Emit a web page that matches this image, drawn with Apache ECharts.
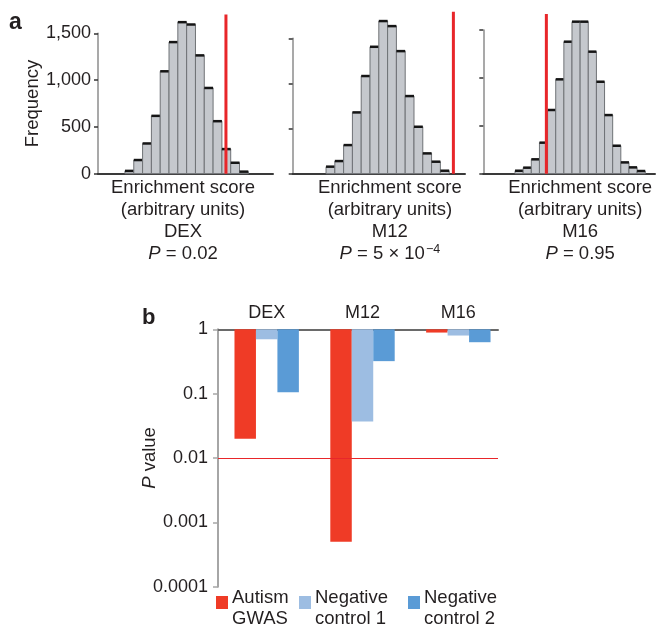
<!DOCTYPE html>
<html>
<head>
<meta charset="utf-8">
<script src="https://cdn.jsdelivr.net/npm/echarts@6/dist/echarts.min.js"></script>
<style>html,body{margin:0;padding:0;background:#fff;}#c{width:657px;height:633px;}</style>
</head>
<body>
<div id="c"></div>
<script>
// ---- Panel a: histogram counts per bin (bin index = enrichment score, arbitrary units)
const dexCounts = [30, 146, 323, 618, 1094, 1406, 1619, 1594, 1264, 916, 561, 263, 117, 22];
const m12Counts = [78, 140, 317, 679, 1082, 1406, 1691, 1635, 1358, 860, 520, 225, 133, 33];
const m16Counts = [31, 63, 150, 324, 665, 985, 1378, 1587, 1587, 1274, 960, 612, 292, 118, 66, 28];
// observed enrichment (red line) position in bin units, and its drawn height
const observedPos = [11.46, 14.48, 3.85];
const observedTop = [1700, 1795, 1667];
const histNames = ['DEX', 'M12', 'M16'];
const freqTicks = [0, 500, 1000, 1500];

// ---- Panel b: P values
const pCategories = ['DEX', 'M12', 'M16'];
const autismGWAS = [0.02, 0.0005, 0.89];
const negControl1 = [0.7, 0.037, 0.8];
const negControl2 = [0.105, 0.32, 0.63];
const pTickLabels = ['0.0001', '0.001', '0.01', '0.1', '1'];
const pThreshold = 0.01;

const FONT = "'Liberation Sans', Arial, Helvetica, sans-serif";
const TXT = '#231f20';

const chart = echarts.init(document.getElementById('c'));

const gridsA = [
  {left: 98, top: 33.3, width: 175, height: 140.4},
  {left: 292.7, top: 38.3, width: 172.3, height: 135.4},
  {left: 483.3, top: 30, width: 171.7, height: 143.7}
];
const xRanges = [[-3.06, 16.8], [-3.79, 15.8], [-3.9, 17.2]];
const namePads = [[0, 5, 0, 0], [0, 0, 0, 22], [0, 0, 0, 22]];
const pStrings = ['{i|P} = 0.02', '{i|P} = 5 × 10{sup|−4}', '{i|P} = 0.95'];

const richBase = {
  i: {fontStyle: 'italic', fontSize: 18.5, fontFamily: FONT, color: TXT, lineHeight: 22},
  sup: {fontSize: 12.5, fontFamily: FONT, color: TXT, verticalAlign: 'top', lineHeight: 22, padding: [0, 0, 6, 1]}
};

const xAxes = [], yAxes = [], series = [];
for (let k = 0; k < 3; k++) {
  xAxes.push({
    gridIndex: k, type: 'value', min: xRanges[k][0], max: xRanges[k][1],
    axisLine: {show: true, onZero: false, lineStyle: {color: '#3a3a3a', width: 2}},
    axisTick: {show: false}, axisLabel: {show: false}, splitLine: {show: false},
    name: 'Enrichment score\n(arbitrary units)\n' + histNames[k] + '\n' + pStrings[k],
    nameLocation: 'middle', nameGap: 3,
    nameTextStyle: {fontSize: 18.5, fontFamily: FONT, color: TXT, lineHeight: 22, padding: namePads[k], rich: richBase}
  });
  yAxes.push({
    gridIndex: k, type: 'value', min: 0, max: 1500, interval: 500,
    axisLine: {show: true, onZero: false, lineStyle: {color: '#8c8c8c', width: 1.5}},
    axisTick: {show: true, inside: false, length: 4, lineStyle: {color: '#333', width: 1.5}},
    axisLabel: {show: k === 0, fontSize: 18, fontFamily: FONT, color: TXT, margin: 7,
      formatter: v => freqTicks.includes(v) ? v.toLocaleString('en-US') : ''},
    splitLine: {show: false},
    name: k === 0 ? 'Frequency' : '', nameLocation: 'middle', nameGap: 56,
    nameTextStyle: {fontSize: 18.5, fontFamily: FONT, color: TXT}
  });
  const counts = [dexCounts, m12Counts, m16Counts][k];
  series.push({
    type: 'custom', xAxisIndex: k, yAxisIndex: k, clip: false, silent: true,
    data: counts.map((c, i) => [i, c]),
    renderItem: (params, api) => {
      const x0 = api.value(0), c = api.value(1);
      const a = api.coord([x0, 0]), b = api.coord([x0 + 1, c]);
      return {type: 'group', children: [
        {type: 'rect', shape: {x: a[0], y: b[1], width: b[0] - a[0], height: a[1] - b[1]},
          style: {fill: '#c5c8cd', stroke: '#6f7276', lineWidth: 1}},
        {type: 'line', shape: {x1: a[0], y1: b[1], x2: b[0], y2: b[1]},
          style: {stroke: '#151515', lineWidth: 2.5}}
      ]};
    }
  });
  series.push({
    type: 'line', xAxisIndex: k, yAxisIndex: k, symbol: 'none', silent: true, z: 5, clip: false,
    data: [[observedPos[k], 0], [observedPos[k], observedTop[k]]],
    lineStyle: {color: '#e8262a', width: 3}
  });
}

// Panel b axes
xAxes.push({
  gridIndex: 3, type: 'value', min: -0.508, max: 2.414, position: 'top',
  axisLine: {show: true, onZero: false, lineStyle: {color: '#6a6a6a', width: 2}},
  axisTick: {show: false}, splitLine: {show: false},
  axisLabel: {show: true, customValues: [0, 1, 2], formatter: v => pCategories[Math.round(v)] || '',
    fontSize: 18, fontFamily: FONT, color: TXT, margin: 7}
});
yAxes.push({
  gridIndex: 3, type: 'log', logBase: 10, min: 0.0001, max: 1,
  axisLine: {show: true, onZero: false, lineStyle: {color: '#a6a6a6', width: 2}},
  axisTick: {show: true, inside: false, length: 5, lineStyle: {color: '#a6a6a6', width: 1.5}},
  axisLabel: {fontSize: 18, fontFamily: FONT, color: TXT, margin: 10,
    formatter: v => { const e = Math.round(Math.log10(v)); return pTickLabels[e + 4]; }},
  splitLine: {show: false},
  name: '{i|P} value', nameLocation: 'middle', nameGap: 57, nameMoveOverlap: false,
  nameTextStyle: {fontSize: 18.5, fontFamily: FONT, color: TXT, rich: richBase}
});

const barW = 0.224;
const pSeries = [
  {name: 'Autism\nGWAS', data: autismGWAS, color: '#ef3b26', off: -1},
  {name: 'Negative\ncontrol 1', data: negControl1, color: '#9dbde2', off: 0},
  {name: 'Negative\ncontrol 2', data: negControl2, color: '#5a9bd6', off: 1}
];
pSeries.forEach((s, si) => {
  const ser = {
    type: 'custom', name: s.name, xAxisIndex: 3, yAxisIndex: 3, silent: true,
    itemStyle: {color: s.color},
    data: s.data.map((p, g) => [g, p]),
    renderItem: (params, api) => {
      const g = api.value(0), p = api.value(1);
      const cx = g + s.off * barW;
      const a = api.coord([cx - barW / 2, 1]), b = api.coord([cx + barW / 2, p]);
      return {type: 'rect', shape: {x: a[0], y: a[1], width: b[0] - a[0], height: b[1] - a[1]},
        style: {fill: s.color}};
    }
  };
  if (si === 2) {
    ser.markLine = {silent: true, symbol: ['none', 'none'], label: {show: false},
      lineStyle: {color: '#e8262a', width: 1, type: 'solid'}, data: [{yAxis: pThreshold}]};
  }
  series.push(ser);
});

const legendLefts = [211, 294, 403];
const legends = pSeries.map((s, i) => ({
  left: legendLefts[i], top: 583, orient: 'horizontal', icon: 'rect',
  itemWidth: 12, itemHeight: 13, itemGap: 0, selectedMode: false,
  data: [s.name],
  formatter: name => { const p = name.split('\n'); return '{l1|' + p[0] + '}\n{l2|' + p[1] + '}'; },
  textStyle: {fontSize: 18.5, fontFamily: FONT, color: TXT, padding: [0, 0, 0, -1],
    rich: {
      l1: {fontSize: 18.5, fontFamily: FONT, color: TXT, lineHeight: 33},
      l2: {fontSize: 18.5, fontFamily: FONT, color: TXT, lineHeight: 10}
    }}
}));

chart.setOption({
  animation: false,
  backgroundColor: '#fff',
  title: [
    {text: 'a', left: 4, top: 6, textStyle: {fontSize: 23, fontWeight: 'bold', fontFamily: FONT, color: TXT}},
    {text: 'b', left: 137, top: 302, textStyle: {fontSize: 22, fontWeight: 'bold', fontFamily: FONT, color: TXT}}
  ],
  legend: legends,
  grid: gridsA.concat([{left: 218, top: 329.3, width: 280, height: 257.4}]),
  xAxis: xAxes,
  yAxis: yAxes,
  series: series
});
</script>
</body>
</html>
